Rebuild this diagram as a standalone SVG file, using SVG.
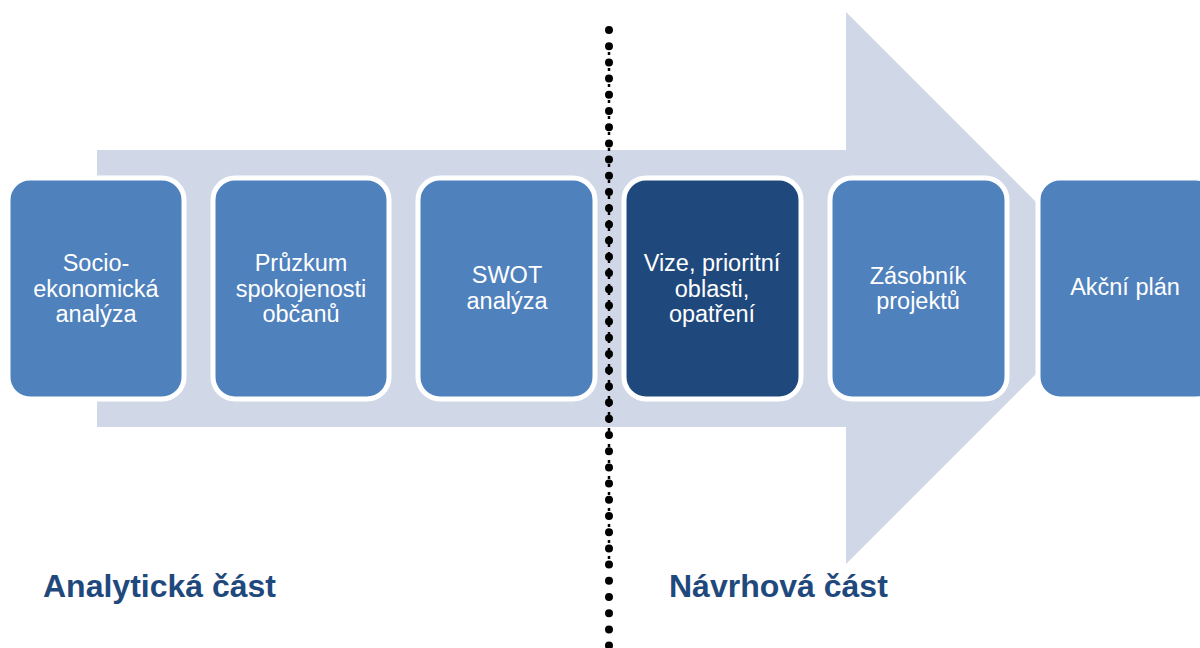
<svg xmlns="http://www.w3.org/2000/svg" width="1200" height="648" viewBox="0 0 1200 648">
<style>
.box{fill:#4F81BD;stroke:#FFFFFF;stroke-width:5}
.dark{fill:#1F497D}
.t{font-family:"Liberation Sans",Arial,sans-serif;font-size:23.5px;fill:#FFFFFF;text-anchor:middle}
.h{font-family:"Liberation Sans",Arial,sans-serif;font-size:32px;font-weight:bold;fill:#1F497D}
</style>
<g id="arrow">
<polygon points="97,150 846,150 846,12 1122,288 846,564 846,427 97,427" fill="#D0D8E8"/>
</g>
<g id="n1"><rect class="box" x="8" y="178" width="176" height="221" rx="22"/>
<text class="t" x="96" y="271">Socio-</text><text class="t" x="96" y="297">ekonomická</text><text class="t" x="96" y="322">analýza</text></g>
<g id="n2"><rect class="box" x="213" y="178" width="176" height="221" rx="22"/>
<text class="t" x="301" y="271">Průzkum</text><text class="t" x="301" y="297">spokojenosti</text><text class="t" x="301" y="322">občanů</text></g>
<g id="n3"><rect class="box" x="418" y="178" width="177" height="221" rx="22"/>
<text class="t" x="507" y="283">SWOT</text><text class="t" x="507" y="309">analýza</text></g>
<g id="n4"><rect class="box dark" x="624" y="178" width="177" height="221" rx="22"/>
<text class="t" x="712" y="271">Vize, prioritní</text><text class="t" x="712" y="297">oblasti,</text><text class="t" x="712" y="322">opatření</text></g>
<g id="n5"><rect class="box" x="830" y="178" width="177" height="221" rx="22"/>
<text class="t" x="918" y="284">Zásobník</text><text class="t" x="918" y="309">projektů</text></g>
<g id="n6"><rect class="box" x="1038" y="178" width="180" height="221" rx="22"/>
<text class="t" x="1125" y="295">Akční plán</text></g>
<g id="divider">
<line x1="609" y1="52" x2="609" y2="562" stroke="#000" stroke-width="2.5" stroke-dasharray="3 5"/>
<line x1="609" y1="30" x2="609" y2="648" stroke="#000" stroke-width="8" stroke-linecap="round" stroke-dasharray="0 16.2"/>
</g>
<text class="h" x="43" y="597">Analytická část</text>
<text class="h" x="669" y="597">Návrhová část</text>
</svg>
